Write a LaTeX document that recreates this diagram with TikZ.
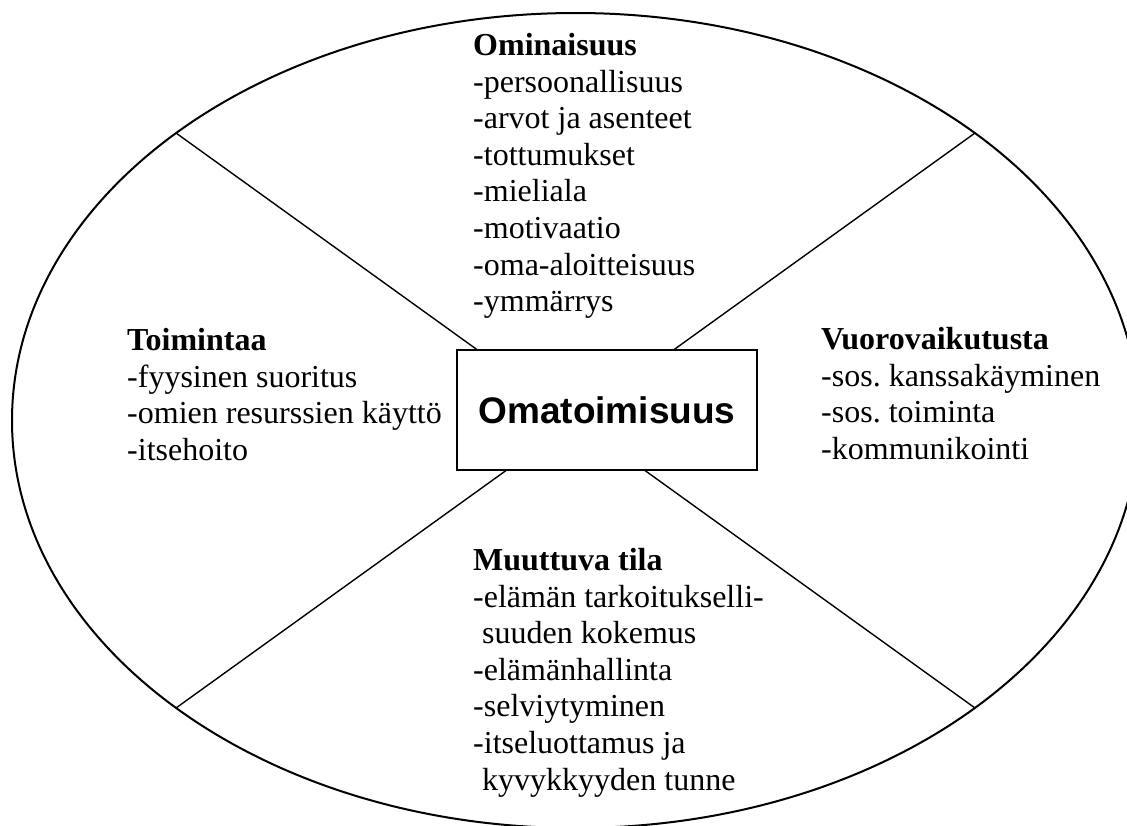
\documentclass[tikz,border=0pt]{standalone}
\usepackage{fontspec}
\setmainfont{Liberation Serif}
\setsansfont{Liberation Sans}
\usetikzlibrary{positioning}
\frenchspacing
\tikzstyle{part} = [align=left, anchor=north west, inner sep=0pt, font=\fontsize{32}{36.6}\selectfont]
\tikzstyle{core} = [rectangle, draw=black, fill=white, line width=2pt, minimum width=300pt, minimum height=120pt, font=\sffamily\bfseries\fontsize{37}{42}\selectfont]
\tikzstyle{spoke} = [line width=1.4pt]
\begin{document}
\begin{tikzpicture}[x=1pt, y=-1pt]
\useasboundingbox (0,0) rectangle (1127,825);
\clip (0,0) rectangle (1127,825);
\draw [line width=2pt] (575.5,420.5) ellipse [x radius=563.5, y radius=407.5];
\coordinate (mid) at (575.5,420.5);
\coordinate (ne_end) at (975,133);
\coordinate (nw_end) at (176,133);
\coordinate (sw_end) at (176,708);
\coordinate (se_end) at (975,708);
\draw [spoke] (nw_end) -- (mid);
\draw [spoke] (ne_end) -- (mid);
\draw [spoke] (sw_end) -- (mid);
\draw [spoke] (se_end) -- (mid);
\node (omatoimisuus) [core] at (607,410) {Omatoimisuus};
\node (ominaisuus) [part] at (473,33) {\textbf{Ominaisuus}\\-persoonallisuus\\-arvot ja asenteet\\-tottumukset\\-mieliala\\-motivaatio\\-oma-aloitteisuus\\-ymmärrys};
\node (toimintaa) [part] at (127,328) {\textbf{Toimintaa}\\-fyysinen suoritus\\-omien resurssien käyttö\\-itsehoito};
\node (vuorovaikutusta) [part] at (821,327) {\textbf{Vuorovaikutusta}\\-sos. kanssakäyminen\\-sos. toiminta\\-kommunikointi};
\node (muuttuva) [part] at (473,548) {\textbf{Muuttuva tila}\\-elämän tarkoitukselli-\\\hspace*{9pt}suuden kokemus\\-elämänhallinta\\-selviytyminen\\-itseluottamus ja\\\hspace*{9pt}kyvykkyyden tunne};
\end{tikzpicture}
\end{document}
